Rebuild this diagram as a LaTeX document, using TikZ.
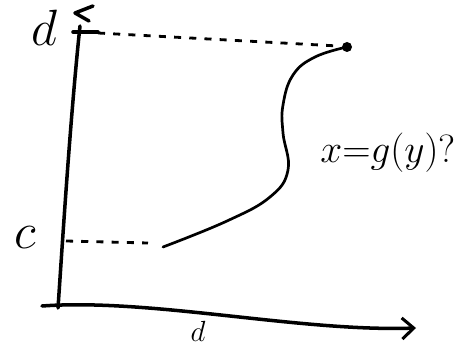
\documentclass[tikz,border=0pt]{standalone}
\usetikzlibrary{arrows.meta}
\begin{document}
\begin{tikzpicture}[
    x=0.03cm, y=-0.03cm,
    axis/.style={line width=3pt, line cap=round, line join=round},
    guide/.style={line width=2.4pt, dash pattern=on 6pt off 7pt},
    curve/.style={line width=2.3pt, line cap=round},
    lbl/.style={font=\Huge, scale=1.75, inner sep=0pt}
]
\useasboundingbox (0,0) rectangle (457,347);

% axes
\coordinate (ytop) at (80,26);
\coordinate (ybot) at (58,308);
\coordinate (xleft) at (42,306);
\coordinate (xright) at (416,328);
\draw[axis] (ytop) .. controls (70,120) and (62,250) .. (ybot);
\draw[axis, -{Straight Barb[length=10pt, width=18pt, line width=2.6pt]}] (xleft) .. controls (150,298) and (300,332) .. (xright);

% tick at d
\draw[axis] (93,6) -- (75,13) -- (89,21);
\draw[axis] (73,32) -- (98,32);

% end points of the curve
\coordinate (cbot) at (163,247);
\coordinate (dtop) at (347,47);
\fill (dtop) circle (5);

% dashed guides
\draw[guide] (98,33) -- (338,46);
\draw[guide] (66,241) -- (148,243);

% the curve
\draw[curve] plot[smooth, tension=0.7] coordinates {(cbot) (227,221) (270,197) (288,170) (283,133) (283,105) (293,75) (315,57) (dtop)};

% labels
\node[lbl] (dlab) at (44,28) {$d$};
\node[lbl] (clab) at (25,238) {$c$};
\node[font=\Huge, scale=1.35, inner sep=0pt] (glab) at (388,153) {$x{=}g(y)$?};
\node[font=\Huge, inner sep=0pt, anchor=north] (dx) at (198,321) {$d$};
\end{tikzpicture}
\end{document}
